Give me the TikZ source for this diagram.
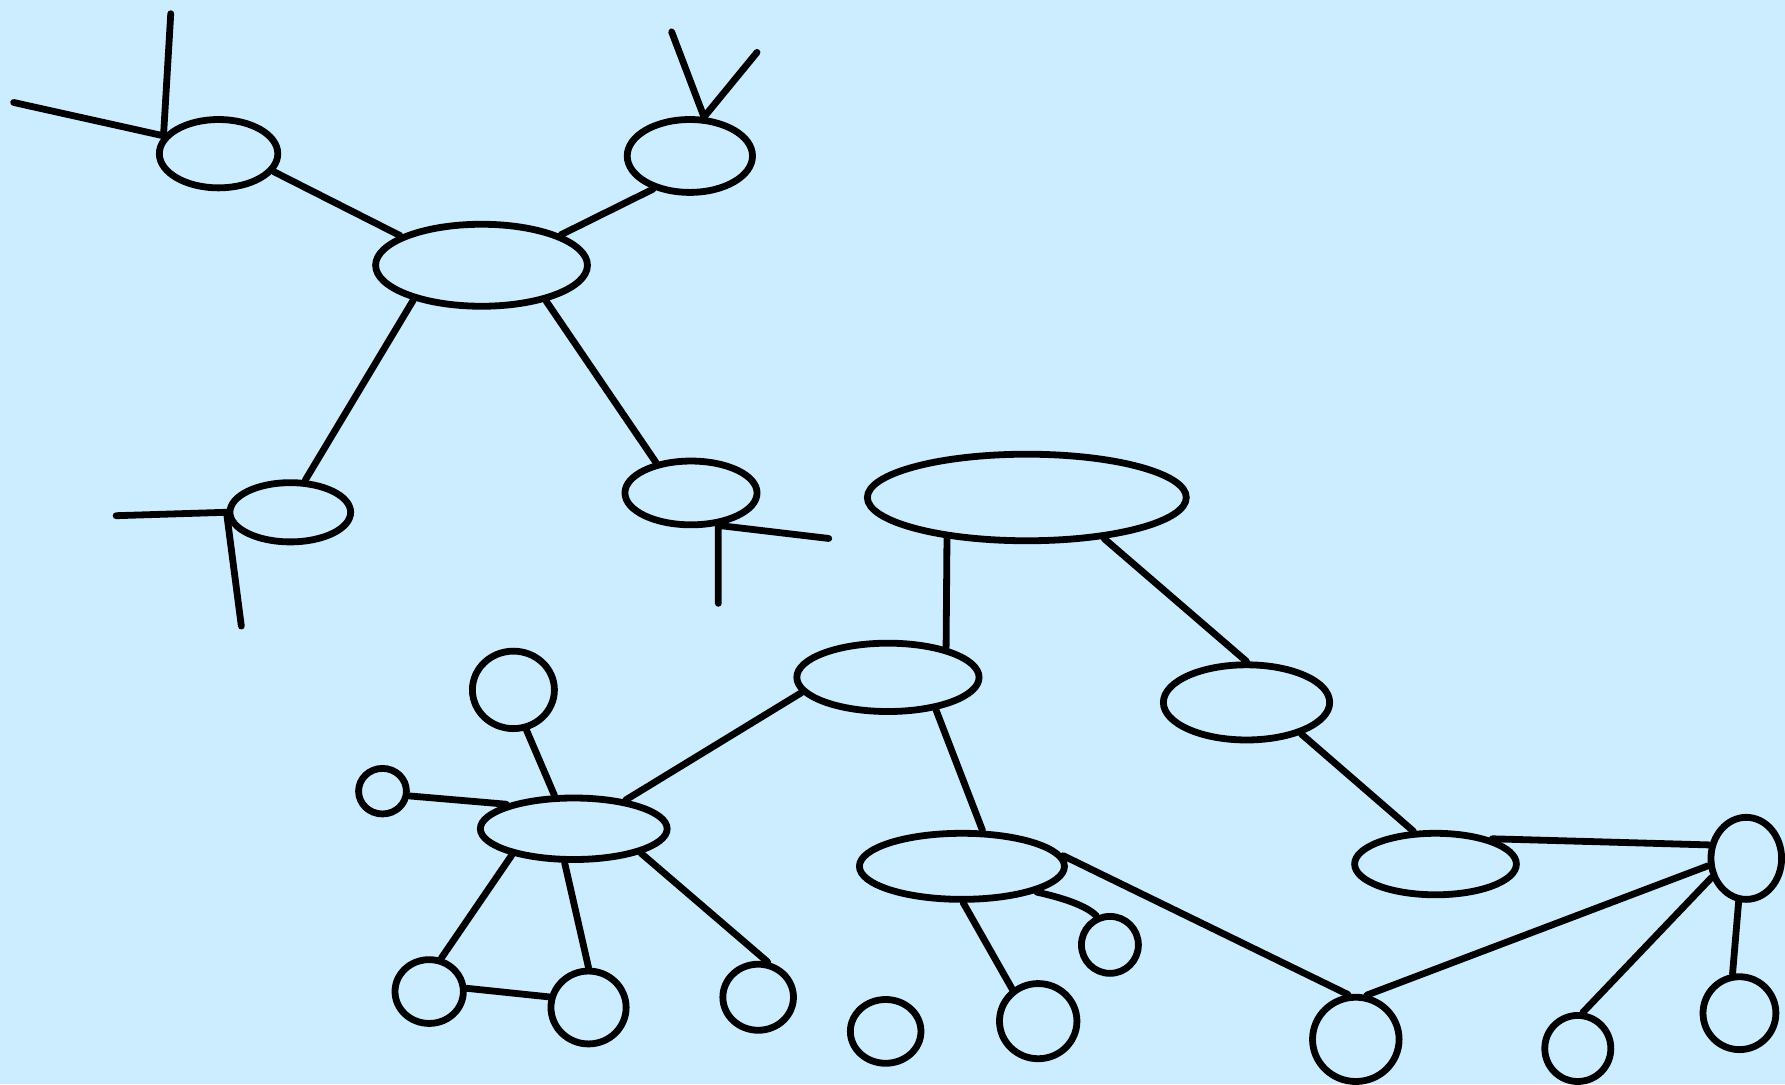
\documentclass[tikz,border=0pt]{standalone}
\usetikzlibrary{shapes.geometric}
\definecolor{sky}{RGB}{204,236,255}
\tikzset{
  blob/.style={draw,ellipse,line width=1.7pt,inner sep=0pt},
  link/.style={line width=1.7pt,line cap=round},
}
\begin{document}
\begin{tikzpicture}[x=0.01cm,y=-0.01cm]
\fill[sky] (0,0) rectangle (1568,952);
% upper group
\node[blob,minimum width=1.04cm,minimum height=0.60cm] (nw) at (192,135) {};
\node[blob,minimum width=1.86cm,minimum height=0.72cm] (hub) at (423,233) {};
\node[blob,minimum width=1.10cm,minimum height=0.64cm] (ne) at (606,137) {};
\node[blob,minimum width=1.06cm,minimum height=0.52cm] (sw) at (255,450) {};
\node[blob,minimum width=1.16cm,minimum height=0.56cm] (se) at (607,433) {};
\coordinate (nwa) at (12,90);
\coordinate (nwb) at (150,12);
\coordinate (nea) at (590,28);
\coordinate (neb) at (665,46);
\coordinate (swa) at (102,453);
\coordinate (swb) at (212,550);
\coordinate (sea) at (728,473);
\coordinate (seb) at (631,530);
\draw[link] (nw.342) -- (hub.160);
\draw[link] (ne.222) -- (hub.21);
\draw[link] (hub.207) -- (sw.65);
\draw[link] (hub.331) -- (se.139);
\draw[link] (nwa) -- (nw.162) -- (nwb);
\draw[link] (nea) -- (ne.70) -- (neb);
\draw[link] (swa) -- (sw.west) -- (swb);
\draw[link] (sea) -- (se.-50) -- (seb);
% lower group
\node[blob,minimum width=2.80cm,minimum height=0.76cm] (top) at (902,437) {};
\node[blob,minimum width=1.60cm,minimum height=0.60cm] (mid) at (780,595) {};
\node[blob,minimum width=1.46cm,minimum height=0.66cm] (east) at (1095,617) {};
\node[blob,minimum width=1.42cm,minimum height=0.54cm] (low) at (1261,759) {};
\node[blob,minimum width=0.62cm,minimum height=0.72cm] (knot) at (1534,754) {};
\node[blob,minimum width=1.64cm,minimum height=0.54cm] (left) at (504,728) {};
\node[blob,minimum width=1.80cm,minimum height=0.58cm] (down) at (845,761) {};
\node[blob,minimum width=0.72cm,minimum height=0.68cm] (c1) at (451,606) {};
\node[blob,minimum width=0.42cm,minimum height=0.40cm] (c2) at (336,695) {};
\node[blob,minimum width=0.60cm,minimum height=0.56cm] (c3) at (377,871) {};
\node[blob,minimum width=0.66cm,minimum height=0.64cm] (c4) at (517,885) {};
\node[blob,minimum width=0.62cm,minimum height=0.58cm] (c5) at (666,876) {};
\node[blob,minimum width=0.62cm,minimum height=0.56cm] (c6) at (778,906) {};
\node[blob,minimum width=0.68cm,minimum height=0.66cm] (c7) at (912,897) {};
\node[blob,minimum width=0.50cm,minimum height=0.50cm] (c8) at (975,830) {};
\node[blob,minimum width=0.76cm,minimum height=0.74cm] (c9) at (1191,913) {};
\node[blob,minimum width=0.58cm,minimum height=0.58cm] (c10) at (1386,921) {};
\node[blob,minimum width=0.64cm,minimum height=0.64cm] (c11) at (1528,890) {};
\draw[link] (top.207) -- (mid.27);
\draw[link] (top.332) -- (east.north);
\draw[link] (east.-30) -- (low.124);
\draw[link] (low.24) -- (knot.160);
\draw[link] (knot.191) -- (c9.76);
\draw[link] (knot.209) -- (c10.82);
\draw[link] (knot.-100) -- (c11.100);
\draw[link] (mid.190) -- (left.29);
\draw[link] (mid.-34) -- (down.60);
\draw[link] (down.6) -- (c9.100);
\draw[link] (down.-88) -- (c7.129);
\draw[link] (down.-19) .. controls (935,789) and (955,796) .. (c8.115);
\draw[link] (left.120) -- (c1.-72);
\draw[link] (c2.-10) -- (left.160);
\draw[link] (left.203) -- (c3.70);
\draw[link] (left.255) -- (c4.north);
\draw[link] (left.-20) -- (c5.75);
\draw[link] (c3.5) -- (c4.165);
\end{tikzpicture}
\end{document}
